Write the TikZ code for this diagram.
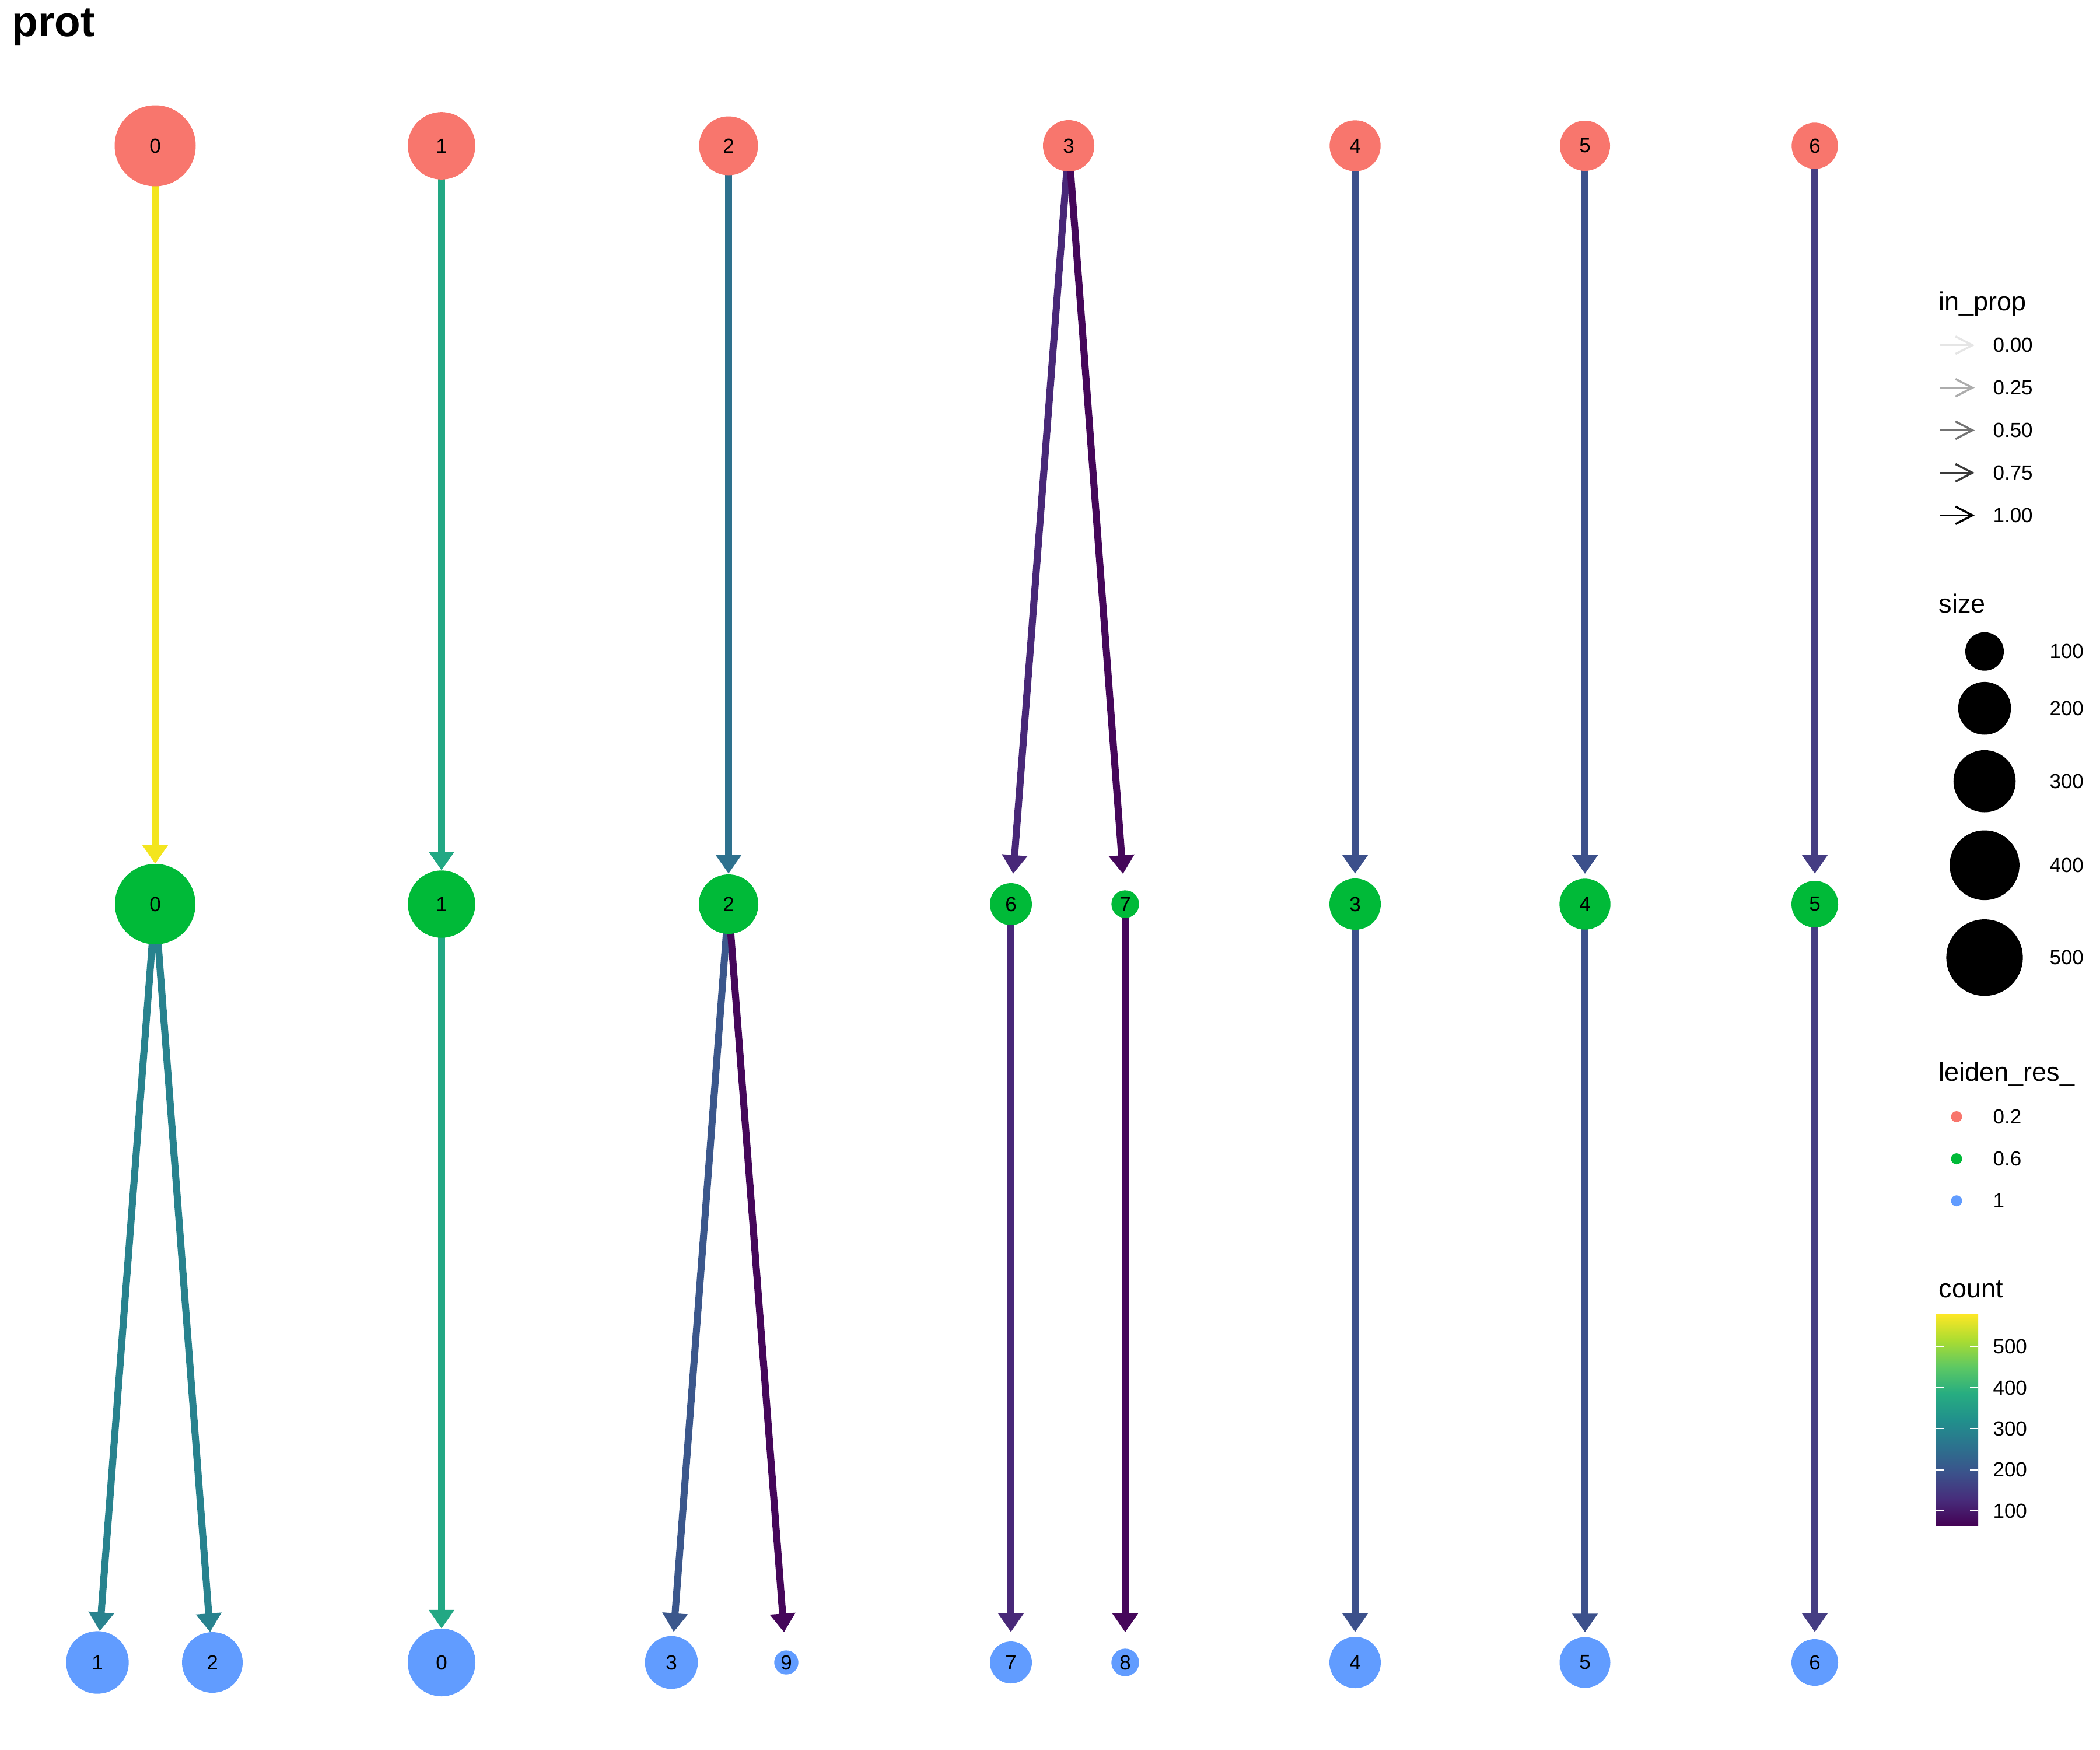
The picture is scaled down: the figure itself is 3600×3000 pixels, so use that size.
\documentclass[tikz,border=0pt]{standalone}
\usepackage{fontspec}
\setmainfont{Liberation Sans}
\usetikzlibrary{arrows.meta, backgrounds, positioning}

\definecolor{resA}{HTML}{F8766D}
\definecolor{resB}{HTML}{00BA38}
\definecolor{resC}{HTML}{619CFF}
\definecolor{cYel}{HTML}{F3E51E}
\definecolor{cTeal}{HTML}{22A884}
\definecolor{cCyan}{HTML}{28828E}
\definecolor{cSea}{HTML}{2E718E}
\definecolor{cBlue}{HTML}{3C508B}
\definecolor{cBlueB}{HTML}{3B578C}
\definecolor{cIndi}{HTML}{453D83}
\definecolor{cPurp}{HTML}{482878}
\definecolor{cDark}{HTML}{45075A}
\definecolor{vA}{HTML}{440154}
\definecolor{vB}{HTML}{472D7B}
\definecolor{vC}{HTML}{3B528B}
\definecolor{vD}{HTML}{2C728E}
\definecolor{vE}{HTML}{21908C}
\definecolor{vF}{HTML}{27AD81}
\definecolor{vG}{HTML}{5DC863}
\definecolor{vH}{HTML}{AADC32}
\definecolor{vI}{HTML}{FDE725}

\pgfdeclareverticalshading{viridis}{100bp}{color(0bp)=(vA); color(25bp)=(vA);
  color(31.25bp)=(vB); color(37.5bp)=(vC); color(43.75bp)=(vD); color(50bp)=(vE);
  color(56.25bp)=(vF); color(62.5bp)=(vG); color(68.75bp)=(vH); color(75bp)=(vI);
  color(100bp)=(vI)}

\newcommand\lblfont{\fontsize{35}{40}\selectfont}
\newcommand\legfont{\fontsize{45}{50}\selectfont}
\newcommand\ttlfont{\fontsize{73}{80}\selectfont\bfseries}

\tikzset{
  clus/.style={circle, fill=#1, inner sep=0pt, font=\lblfont},
  edge/.style={draw=#1, line width=12pt, -{Triangle[length=32pt,width=42pt]}},
  legarr/.style={draw=#1, line width=3.5pt, -{Straight Barb[length=29pt,width=30pt]}},
  legtxt/.style={anchor=west, font=\lblfont},
  legttl/.style={anchor=base west, font=\legfont}
}

\begin{document}
\begin{tikzpicture}[x=1pt, y=-1pt]
  \useasboundingbox (0,0) rectangle (3600,3000);

  \node[anchor=base west, font=\ttlfont] (title) at (17,63) {prot};

  \node[clus=resA, minimum size=139pt] (t0) at (266,250) {0};
  \node[clus=resA, minimum size=115.6pt] (t1) at (757,250) {1};
  \node[clus=resA, minimum size=101pt] (t2) at (1249,250) {2};
  \node[clus=resA, minimum size=88pt] (t3) at (1832,250) {3};
  \node[clus=resA, minimum size=87.4pt] (t4) at (2323,250) {4};
  \node[clus=resA, minimum size=86pt] (t5) at (2717,250) {5};
  \node[clus=resA, minimum size=79.4pt] (t6) at (3111,250) {6};

  \node[clus=resB, minimum size=138pt] (m0) at (266,1550) {0};
  \node[clus=resB, minimum size=115.4pt] (m1) at (757,1550) {1};
  \node[clus=resB, minimum size=102pt] (m2) at (1249,1550) {2};
  \node[clus=resB, minimum size=72pt] (m6) at (1733,1550) {6};
  \node[clus=resB, minimum size=47.4pt] (m7) at (1929,1550) {7};
  \node[clus=resB, minimum size=88pt] (m3) at (2323,1550) {3};
  \node[clus=resB, minimum size=87.4pt] (m4) at (2717,1550) {4};
  \node[clus=resB, minimum size=80pt] (m5) at (3111,1550) {5};

  \node[clus=resC, minimum size=107.4pt] (b1) at (167,2850) {1};
  \node[clus=resC, minimum size=104pt] (b2) at (364,2850) {2};
  \node[clus=resC, minimum size=116pt] (b0) at (757,2850) {0};
  \node[clus=resC, minimum size=90.6pt] (b3) at (1151,2850) {3};
  \node[clus=resC, minimum size=41.4pt] (b9) at (1348,2850) {9};
  \node[clus=resC, minimum size=72pt] (b7) at (1733,2850) {7};
  \node[clus=resC, minimum size=47.4pt] (b8) at (1929,2850) {8};
  \node[clus=resC, minimum size=88pt] (b4) at (2323,2850) {4};
  \node[clus=resC, minimum size=87pt] (b5) at (2717,2850) {5};
  \node[clus=resC, minimum size=80pt] (b6) at (3111,2850) {6};

  \begin{scope}[on background layer]
    \foreach \a/\b/\c/\s in {t0/m0/cYel/0, t1/m1/cTeal/0, t2/m2/cSea/1,
        t3/m6/cPurp/16, t3/m7/cDark/28, t4/m3/cBlue/8, t5/m4/cBlue/8,
        t6/m5/cIndi/12, m0/b1/cCyan/0, m0/b2/cCyan/0, m1/b0/cTeal/0,
        m2/b3/cBlueB/7, m2/b9/cDark/31, m6/b7/cPurp/16, m7/b8/cDark/28,
        m3/b4/cBlue/8, m4/b5/cBlue/8, m5/b6/cIndi/12}
      \draw[edge=\c, shorten >=\s pt] (\a.center) -- (\b);
  \end{scope}

  \node[legttl] (inprop) at (3320,532) {in\_prop};
  \foreach \v/\k [count=\i from 0] in {0.00/10, 0.25/32.5, 0.50/55, 0.75/77.5, 1.00/100} {
    \draw[legarr=black!\k] (3326,591.7+72.9*\i) -- ++(59,0);
    \node[legtxt] at (3413,591.7+72.9*\i) {\v};
  }

  \node[legttl] (sizettl) at (3320,1050) {size};
  \foreach \r/\y/\v in {33/1116.7/100, 45.3/1214.2/200, 53.3/1339.2/300,
      59.8/1483.3/400, 65.6/1641.7/500} {
    \fill (3402,\y) circle (\r);
    \node[legtxt] at (3510,\y) {\v};
  }

  \node[legttl] (resttl) at (3320,1853) {leiden\_res\_};
  \foreach \c/\v [count=\i from 0] in {resA/0.2, resB/0.6, resC/1} {
    \fill[\c] (3354,1914.5+72.1*\i) circle (9.5);
    \node[legtxt] at (3413,1914.5+72.1*\i) {\v};
  }

  \node[legttl] (countttl) at (3320,2224) {count};
  \shade[shading=viridis] (3318,2253) rectangle (3391,2615.6);
  \foreach \v/\y in {500/2308.6, 400/2379, 300/2449.4, 200/2519.8, 100/2590.2} {
    \draw[white, line width=2pt] (3318,\y) -- ++(14,0) (3391,\y) -- ++(-14,0);
    \node[legtxt] at (3413,\y) {\v};
  }
\end{tikzpicture}
\end{document}
